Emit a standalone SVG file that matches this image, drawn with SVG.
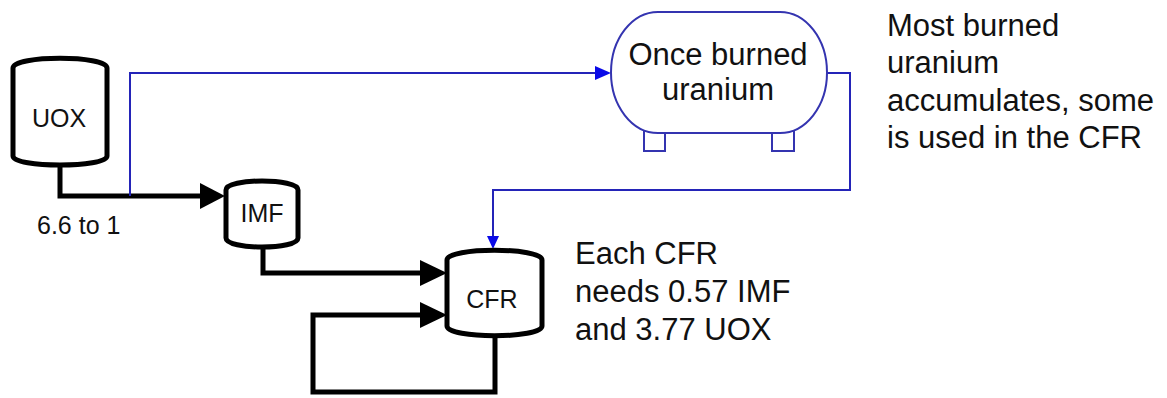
<svg xmlns="http://www.w3.org/2000/svg" width="1167" height="398" viewBox="0 0 1167 398">
<style>
.drum{fill:#fff;stroke:#000;stroke-width:5;stroke-linejoin:round}
.lbl{font-family:"Liberation Sans",Arial,sans-serif;font-size:25px;fill:#111;text-anchor:middle}
.note{font-family:"Liberation Sans",Arial,sans-serif;font-size:31px;fill:#111}
.bl{fill:none;stroke:#000;stroke-width:5;stroke-linejoin:miter}
.blue{fill:none;stroke:#2424b8;stroke-width:2}
.barr{fill:#000}
.uarr{fill:#0a0ae8}
.tank{fill:#fff;stroke:#3434b0;stroke-width:2}
</style>
<rect width="1167" height="398" fill="#fff"/>
<g id="connectors">
<path class="bl" d="M60,165 V196 H203"/>
<polygon class="barr" points="200,183 225,196 200,209"/>
<path class="bl" d="M263,247 V273 H422"/>
<polygon class="barr" points="420,260 447,273 420,286"/>
<path class="bl" d="M495,336 V392 H313 V315 H422"/>
<polygon class="barr" points="420,302 447,315 420,328"/>
<path class="blue" d="M130,196 V73 H597"/>
<polygon class="uarr" points="595,66 611,73 595,80"/>
<path class="blue" d="M827,73 H850 V190 H493 V237"/>
<polygon class="uarr" points="487,236 499,236 493,249"/>
</g>
<g id="uox">
<path class="drum" d="M13,68 C13,55 107,55 107,68 V156 C107,168 13,168 13,156 Z"/>
<text class="lbl" x="59" y="127">UOX</text>
</g>
<g id="imf">
<path class="drum" d="M226,190 C226,178 298,178 298,190 V238 C298,250 226,250 226,238 Z"/>
<text class="lbl" x="262" y="222">IMF</text>
</g>
<g id="cfr">
<path class="drum" d="M447,260 C447,247 542,247 542,260 V326 C542,339 447,339 447,326 Z"/>
<text class="lbl" x="492" y="308">CFR</text>
</g>
<g id="once-burned">
<rect class="tank" x="644" y="126" width="21" height="25"/>
<rect class="tank" x="772" y="126" width="22" height="25"/>
<path class="tank" d="M658,12 H780 A47,60.5 0 0 1 827,72.5 A47,60.5 0 0 1 780,133 H658 A47,60.5 0 0 1 611,72.5 A47,60.5 0 0 1 658,12 Z"/>
<text class="note" x="718" y="65" text-anchor="middle">Once burned</text>
<text class="note" x="718" y="100" text-anchor="middle">uranium</text>
</g>
<g id="labels">
<text class="lbl" x="37" y="234" text-anchor="start" style="text-anchor:start">6.6 to 1</text>
<text class="note" x="887"><tspan x="887" y="36">Most burned</tspan><tspan x="887" y="73">uranium</tspan><tspan x="887" y="111">accumulates, some</tspan><tspan x="887" y="148">is used in the CFR</tspan></text>
<text class="note" x="575"><tspan x="575" y="264">Each CFR</tspan><tspan x="575" y="302">needs 0.57 IMF</tspan><tspan x="575" y="340">and 3.77 UOX</tspan></text>
</g>
</svg>
